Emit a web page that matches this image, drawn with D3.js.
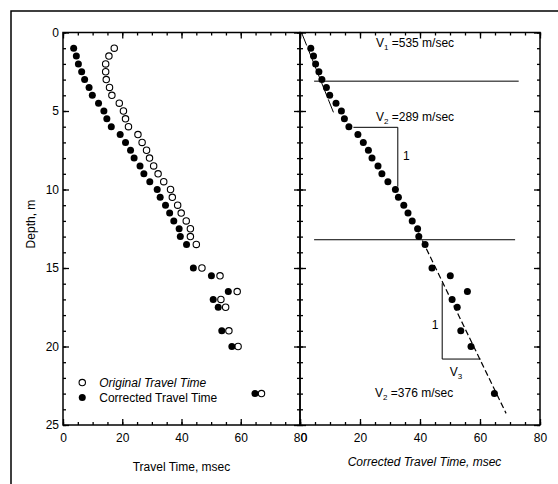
<!DOCTYPE html>
<html>
<head>
<meta charset="utf-8">
<script src="https://cdn.jsdelivr.net/npm/d3@7"></script>
<style>
  html, body { margin: 0; padding: 0; background: #fff; }
  svg { display: block; }
  text { font-family: "Liberation Sans", Arial, sans-serif; fill: #000; }
</style>
</head>
<body>
<svg id="chart" width="558" height="484"></svg>
<script>
// ---- data ----
const depth = [1,1.5,2,2.5,3,3.5,4,4.5,5,5.5,6,6.5,7,7.5,8,8.5,9,9.5,10,10.5,11,11.5,12,12.5,13,13.5,15,15.5,16.5,17,17.5,19,20,23];
const originalTime = [17.3,15.5,14.4,14.4,14.6,15.7,16.5,19,20.4,21.1,22.1,25.3,26.7,28.2,29.2,30.6,32.1,34,36.3,36.9,38.7,39.9,41.6,43,43,45,46.9,53,58.8,53.3,54.9,56,59.1,67];
const correctedTime = [3.6,4.5,5.2,6.3,7.3,8.8,9.9,12,13.8,14.8,16.3,19.3,21.1,22.8,24,26,27.3,29.3,31.8,32.8,34.6,36,37.4,39.2,39.6,41.7,44,50.1,55.8,50.7,52.4,53.6,57,64.8];

const xMajorTicks = [0,20,40,60,80];
const yMajorTicks = [0,5,10,15,20,25];

// layer boundaries (depth, m) and their time extent
const boundaryDepths = [3.1, 13.2];
const boundaryTimeStart = [4.7, 4.7];
const boundaryTimeEnd = [72.9, 71.7];

// fitted velocity lines [time, depth]
const fitV1 = [[0.5, 0], [11.6, 5.3]];
const fitV3 = [[39.5, 12.74], [68.7, 24.26]];

// slope triangles [time, depth]
const triangleV2 = [[17.8, 6.04], [32.6, 6.04], [32.6, 9.82]];
const triangleV3 = [[47.4, 15.97], [47.4, 20.8], [60.2, 20.8]];

const legendLabels = ["Original Travel Time", "Corrected Travel Time"];

// ---- layout ----
const svg = d3.select("#chart");
const plotTop = 32.5, plotBottom = 425;
const leftX0 = 63, midX = 300, rightX1 = 540;

const yScale = d3.scaleLinear().domain([0, 25]).range([plotTop, plotBottom]);
const xLeft = d3.scaleLinear().domain([0, 80]).range([leftX0, midX]);
const xRight = d3.scaleLinear().domain([0, 80]).range([midX, rightX1]);

// outer frame (cropped on right/bottom)
svg.append("path")
  .attr("d", "M11,484 L11,11 L558,11")
  .attr("fill", "none").attr("stroke", "#000").attr("stroke-width", 1.5);

function drawPanel(x, showYLabels, isRight) {
  const g = svg.append("g");
  const minorX = d3.range(0, 81, 5);
  const minorY = d3.range(0, 26, 1);
  const x0 = x.range()[0], x1 = x.range()[1];

  function addAxis(axisGen, transform) {
    const a = g.append("g").attr("transform", transform).call(axisGen);
    a.select(".domain").remove();
    a.selectAll("line").attr("stroke", "#000").attr("stroke-width", 1.3);
    a.selectAll("text").style("font-size", "12px")
      .style("font-family", '"Liberation Sans", Arial, sans-serif');
    return a;
  }
  // minor ticks
  addAxis(d3.axisBottom(x).tickValues(minorX).tickSize(-3).tickFormat(""), `translate(0,${plotBottom})`);
  addAxis(d3.axisTop(x).tickValues(minorX).tickSize(-3).tickFormat(""), `translate(0,${plotTop})`);
  addAxis(d3.axisLeft(yScale).tickValues(minorY).tickSize(-3).tickFormat(""), `translate(${x0},0)`);
  addAxis(d3.axisRight(yScale).tickValues(minorY).tickSize(-3).tickFormat(""), `translate(${x1},0)`);
  // major ticks
  const bx = addAxis(d3.axisBottom(x).tickValues(xMajorTicks).tickSize(-6).tickPadding(8).tickFormat(d3.format("d")), `translate(0,${plotBottom})`);
  if (isRight) {
    // the reference's "0" sits over the trailing digit of the left panel's "80"
    bx.selectAll("text").filter(d => d === 0).attr("dx", 3.5);
  }
  addAxis(d3.axisTop(x).tickValues(xMajorTicks).tickSize(-6).tickFormat(""), `translate(0,${plotTop})`);
  addAxis(d3.axisLeft(yScale).tickValues(yMajorTicks).tickSize(-6).tickPadding(4)
      .tickFormat(showYLabels ? d3.format("d") : ""), `translate(${x0},0)`);
  addAxis(d3.axisRight(yScale).tickValues(yMajorTicks).tickSize(-6).tickFormat(""), `translate(${x1},0)`);

  g.append("rect")
    .attr("x", x0).attr("y", plotTop)
    .attr("width", x1 - x0).attr("height", plotBottom - plotTop)
    .attr("fill", "none").attr("stroke", "#000").attr("stroke-width", 1.5);
  return g;
}

drawPanel(xLeft, true, false);
drawPanel(xRight, false, true);

const R = 3.5;

// ---- left panel points ----
const leftG = svg.append("g");
leftG.selectAll("circle.orig").data(depth).join("circle")
  .attr("class", "orig")
  .attr("cx", (d, i) => xLeft(originalTime[i]))
  .attr("cy", d => yScale(d))
  .attr("r", R - 0.3)
  .attr("fill", "#fff").attr("stroke", "#000").attr("stroke-width", 1.1);
leftG.selectAll("circle.corr").data(depth).join("circle")
  .attr("class", "corr")
  .attr("cx", (d, i) => xLeft(correctedTime[i]))
  .attr("cy", d => yScale(d))
  .attr("r", R)
  .attr("fill", "#000");

// legend
const legX = xLeft(6.5);
const legY = [yScale(22.3), yScale(23.25)];
leftG.append("circle").attr("cx", legX).attr("cy", legY[0]).attr("r", R - 0.3)
  .attr("fill", "#fff").attr("stroke", "#000").attr("stroke-width", 1.1);
leftG.append("circle").attr("cx", legX).attr("cy", legY[1]).attr("r", R)
  .attr("fill", "#000");
leftG.selectAll("text.leg").data(legendLabels).join("text")
  .attr("class", "leg")
  .attr("x", legX + 17)
  .attr("y", (d, i) => legY[i] + 4.3)
  .style("font-size", "12px")
  .style("font-style", (d, i) => i === 0 ? "italic" : "normal")
  .text(d => d);

// ---- right panel ----
const rightG = svg.append("g");
const line = d3.line().x(d => xRight(d[0])).y(d => yScale(d[1]));

// layer boundaries
rightG.selectAll("line.boundary").data(boundaryDepths).join("line")
  .attr("class", "boundary")
  .attr("x1", (d, i) => xRight(boundaryTimeStart[i]))
  .attr("x2", (d, i) => xRight(boundaryTimeEnd[i]))
  .attr("y1", d => yScale(d)).attr("y2", d => yScale(d))
  .attr("stroke", "#000").attr("stroke-width", 1);

// fit lines
rightG.append("path").attr("d", line(fitV1))
  .attr("fill", "none").attr("stroke", "#000").attr("stroke-width", 1)
  .attr("stroke-dasharray", "14,4");
rightG.append("path").attr("d", line(fitV3))
  .attr("fill", "none").attr("stroke", "#000").attr("stroke-width", 1.2)
  .attr("stroke-dasharray", "6,3");

// triangles
rightG.append("path").attr("d", line(triangleV2))
  .attr("fill", "none").attr("stroke", "#000").attr("stroke-width", 1);
rightG.append("path").attr("d", line(triangleV3))
  .attr("fill", "none").attr("stroke", "#000").attr("stroke-width", 1);

// points
rightG.selectAll("circle.corr").data(depth).join("circle")
  .attr("class", "corr")
  .attr("cx", (d, i) => xRight(correctedTime[i]))
  .attr("cy", d => yScale(d))
  .attr("r", R)
  .attr("fill", "#000");

// velocity labels
function velLabel(t, dpt, sub, rest) {
  const tx = rightG.append("text")
    .attr("x", xRight(t)).attr("y", yScale(dpt))
    .style("font-size", "12px");
  tx.append("tspan").text("V");
  tx.append("tspan").attr("dy", 3).style("font-size", "8px").text(sub);
  tx.append("tspan").attr("dy", -3).text(rest);
  return tx;
}
velLabel(25.3, 0.93, "1", " =535 m/sec");
velLabel(25.3, 5.65, "2", " =289 m/sec");
velLabel(25.0, 23.2, "2", " =376 m/sec");

rightG.append("text").attr("x", xRight(34.3)).attr("y", yScale(8.1))
  .style("font-size", "12px").text("1");
rightG.append("text").attr("x", xRight(43.9)).attr("y", yScale(18.9))
  .style("font-size", "12px").text("1");
const v3 = rightG.append("text").attr("x", xRight(49.9)).attr("y", yScale(21.85))
  .style("font-size", "12px");
v3.append("tspan").text("V");
v3.append("tspan").attr("dy", 3).style("font-size", "8px").text("3");

// axis titles
svg.append("text")
  .attr("x", xLeft(40)).attr("y", 471)
  .attr("text-anchor", "middle").style("font-size", "12px")
  .text("Travel Time, msec");
svg.append("text")
  .attr("x", xRight(41.5)).attr("y", 466)
  .attr("text-anchor", "middle").style("font-size", "12px").style("font-style", "italic")
  .text("Corrected Travel Time, msec");
svg.append("text")
  .attr("transform", `translate(35,${yScale(12.2)}) rotate(-90)`)
  .attr("text-anchor", "middle").style("font-size", "12px")
  .text("Depth, m");
</script>
</body>
</html>
